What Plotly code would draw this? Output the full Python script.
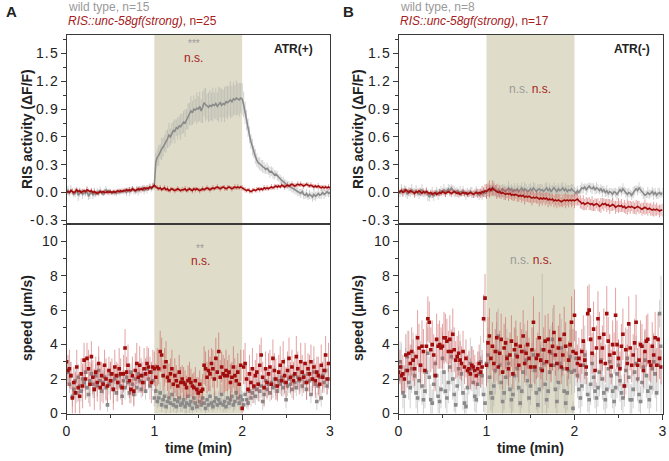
import numpy as np
import plotly.graph_objects as go

# ---------------- data ----------------
# RIS activity (dF/F), sampled every 1 s, 0..180 s
actA_wt = [0.00,0.02,-0.01,0.03,0.01,-0.02,0.00,0.02,-0.03,-0.01,0.01,-0.02,0.00,-0.01,0.02,-0.04,-0.02,0.01,-0.03,0.00,
 -0.02,0.01,-0.01,0.02,0.00,-0.02,0.01,0.03,0.00,0.02,0.01,-0.01,0.00,0.01,-0.01,0.00,0.01,0.00,0.02,0.01,
 0.02,0.00,0.03,0.01,0.02,0.04,0.02,0.01,0.03,0.02,0.04,0.03,0.05,0.02,0.04,0.03,0.05,0.06,0.04,0.06,
 0.07,0.33,0.38,0.40,0.44,0.47,0.49,0.53,0.55,0.58,0.62,0.60,0.64,0.67,0.66,0.70,0.69,0.72,0.71,0.74,
 0.76,0.75,0.79,0.82,0.85,0.88,0.86,0.90,0.89,0.91,0.90,0.93,0.88,0.92,0.97,0.95,0.93,0.92,0.94,0.93,
 0.95,0.94,0.96,0.93,0.95,0.97,0.94,0.96,0.95,0.98,0.97,0.99,1.00,0.98,1.01,1.00,1.02,1.01,1.00,1.02,
 1.01,0.95,0.86,0.78,0.70,0.62,0.55,0.49,0.44,0.39,0.35,0.32,0.31,0.29,0.28,0.27,0.25,0.26,0.24,0.22,
 0.23,0.21,0.19,0.20,0.18,0.16,0.14,0.13,0.12,0.10,0.09,0.08,0.07,0.06,0.05,0.04,0.03,0.02,0.01,0.00,
 -0.01,0.01,-0.02,-0.03,-0.01,-0.04,-0.02,-0.03,-0.05,-0.02,-0.04,-0.03,-0.01,-0.03,-0.02,0.00,-0.02,-0.01,0.01,-0.01,0.00]
errA_wt = [0.04,0.05,0.03,0.05,0.04,0.03,0.05,0.04,0.06,0.04,0.03,0.05,0.04,0.03,0.05,0.04,0.05,0.03,0.04,0.05,
 0.03,0.04,0.03,0.04,0.03,0.02,0.03,0.04,0.03,0.02,0.03,0.02,0.03,0.02,0.03,0.02,0.03,0.02,0.03,0.03,
 0.03,0.04,0.03,0.05,0.04,0.03,0.04,0.03,0.04,0.05,0.03,0.04,0.03,0.04,0.03,0.04,0.03,0.04,0.03,0.04,
 0.04,0.10,0.09,0.11,0.08,0.12,0.10,0.09,0.12,0.10,0.13,0.09,0.11,0.10,0.13,0.09,0.12,0.10,0.14,0.11,
 0.12,0.15,0.11,0.14,0.12,0.16,0.13,0.15,0.12,0.17,0.14,0.16,0.13,0.17,0.15,0.18,0.14,0.16,0.17,0.15,
 0.18,0.14,0.17,0.15,0.19,0.16,0.18,0.15,0.19,0.17,0.18,0.16,0.20,0.17,0.18,0.16,0.19,0.17,0.18,0.16,
 0.17,0.14,0.12,0.11,0.10,0.09,0.08,0.09,0.07,0.08,0.07,0.06,0.07,0.06,0.07,0.06,0.05,0.06,0.05,0.06,
 0.05,0.06,0.05,0.04,0.05,0.04,0.05,0.04,0.05,0.04,0.05,0.04,0.05,0.04,0.05,0.04,0.05,0.04,0.05,0.04,
 0.05,0.04,0.05,0.04,0.05,0.04,0.05,0.04,0.05,0.06,0.05,0.04,0.05,0.04,0.05,0.04,0.05,0.04,0.05,0.04,0.05]
actA_gf = [0.00,0.01,0.00,0.02,0.01,0.00,0.01,0.03,0.01,0.02,0.00,0.01,0.02,0.01,0.03,0.02,0.01,0.02,0.00,0.01,
 0.00,-0.01,0.00,0.01,0.00,0.01,0.00,0.00,0.01,0.00,0.01,0.00,0.01,0.00,0.01,0.02,0.01,0.02,0.01,0.02,
 0.02,0.03,0.02,0.03,0.02,0.04,0.03,0.02,0.03,0.04,0.03,0.04,0.03,0.05,0.04,0.05,0.04,0.06,0.05,0.07,
 0.08,0.06,0.05,0.04,0.05,0.03,0.04,0.05,0.03,0.04,0.02,0.03,0.04,0.03,0.02,0.03,0.04,0.03,0.02,0.03,
 0.03,0.04,0.02,0.03,0.04,0.03,0.02,0.04,0.03,0.04,0.03,0.02,0.03,0.04,0.03,0.04,0.05,0.04,0.03,0.04,
 0.05,0.04,0.05,0.06,0.05,0.04,0.05,0.06,0.05,0.04,0.05,0.06,0.05,0.04,0.05,0.06,0.05,0.06,0.05,0.06,
 0.05,0.04,0.03,0.02,0.03,0.02,0.01,0.02,0.03,0.02,0.03,0.04,0.03,0.04,0.03,0.05,0.04,0.05,0.04,0.05,
 0.06,0.05,0.06,0.07,0.06,0.07,0.06,0.08,0.07,0.06,0.07,0.08,0.07,0.08,0.09,0.08,0.07,0.08,0.09,0.08,
 0.09,0.08,0.07,0.08,0.09,0.08,0.07,0.08,0.07,0.06,0.07,0.06,0.07,0.06,0.05,0.06,0.05,0.06,0.05,0.06,0.05]
errA_gf = [0.02,0.03,0.02,0.02,0.03,0.02,0.03,0.02,0.02,0.03,0.02,0.03,0.02,0.02,0.03,0.02,0.02,0.03,0.02,0.03,
 0.02,0.02,0.03,0.02,0.02,0.02,0.03,0.02,0.02,0.03,0.02,0.02,0.02,0.03,0.02,0.02,0.03,0.02,0.02,0.02,
 0.03,0.02,0.02,0.03,0.02,0.03,0.02,0.02,0.03,0.02,0.03,0.02,0.02,0.03,0.02,0.03,0.02,0.03,0.02,0.03,
 0.03,0.02,0.03,0.02,0.03,0.02,0.02,0.03,0.02,0.03,0.02,0.03,0.02,0.02,0.03,0.02,0.03,0.02,0.02,0.03,
 0.02,0.03,0.02,0.03,0.02,0.02,0.03,0.02,0.03,0.02,0.02,0.03,0.02,0.03,0.02,0.02,0.03,0.02,0.03,0.02,
 0.03,0.02,0.02,0.03,0.02,0.03,0.02,0.02,0.03,0.02,0.03,0.02,0.02,0.03,0.02,0.03,0.02,0.03,0.02,0.02,
 0.03,0.02,0.03,0.02,0.02,0.03,0.02,0.03,0.02,0.02,0.03,0.02,0.03,0.02,0.02,0.03,0.02,0.03,0.02,0.02,
 0.03,0.02,0.03,0.02,0.03,0.02,0.02,0.03,0.02,0.03,0.02,0.03,0.02,0.02,0.03,0.02,0.03,0.02,0.03,0.02,
 0.03,0.02,0.03,0.02,0.02,0.03,0.02,0.03,0.02,0.03,0.02,0.02,0.03,0.02,0.03,0.02,0.03,0.02,0.02,0.03,0.02]

actB_wt = [0.02,-0.01,0.03,0.00,0.04,0.01,-0.02,0.02,0.00,0.03,0.01,-0.01,0.02,0.00,-0.02,0.01,0.03,0.00,-0.01,0.01,
 -0.03,-0.05,-0.02,0.00,-0.04,-0.01,0.01,-0.02,0.00,0.02,0.01,0.03,0.00,0.02,0.04,0.02,0.05,0.03,0.01,0.00,
 0.02,-0.01,0.01,0.00,0.02,-0.01,-0.02,0.00,-0.01,0.01,0.00,-0.02,-0.01,0.01,-0.01,-0.03,0.00,-0.02,0.01,-0.01,
 0.00,0.03,0.01,0.04,0.02,0.05,0.03,0.01,0.03,0.00,0.02,0.04,0.02,0.01,0.03,0.05,0.02,0.04,0.01,0.03,
 0.02,0.04,0.01,0.03,0.05,0.02,0.04,0.03,0.01,0.02,0.04,0.02,0.05,0.03,0.01,0.03,0.04,0.02,0.03,0.01,
 0.03,0.05,0.02,0.04,0.01,0.03,0.05,0.03,0.01,0.04,0.02,0.03,0.05,0.02,0.04,0.01,0.03,0.02,0.04,0.02,
 0.01,-0.01,0.02,0.00,0.03,0.05,0.04,0.06,0.03,0.05,0.07,0.05,0.04,0.06,0.03,0.05,0.04,0.02,0.04,0.01,
 0.03,0.00,0.02,-0.01,0.01,0.00,-0.02,0.01,0.00,-0.02,0.01,0.03,0.01,0.04,0.02,0.00,-0.02,0.00,-0.01,-0.03,
 0.00,0.02,0.04,0.02,0.05,0.03,0.01,-0.01,-0.03,-0.02,0.00,-0.02,-0.01,0.01,-0.02,0.00,-0.03,-0.01,0.00,-0.02,0.00]
errB_wt = [0.05,0.04,0.06,0.05,0.04,0.06,0.05,0.04,0.05,0.06,0.04,0.05,0.06,0.04,0.05,0.04,0.06,0.05,0.04,0.05,
 0.06,0.05,0.04,0.06,0.05,0.04,0.05,0.06,0.04,0.05,0.04,0.06,0.05,0.04,0.05,0.06,0.04,0.05,0.06,0.05,
 0.04,0.05,0.06,0.04,0.05,0.04,0.06,0.05,0.04,0.05,0.06,0.04,0.05,0.06,0.04,0.05,0.04,0.06,0.05,0.04,
 0.06,0.05,0.07,0.05,0.06,0.08,0.05,0.06,0.07,0.05,0.06,0.05,0.07,0.06,0.05,0.07,0.06,0.05,0.06,0.07,
 0.05,0.06,0.07,0.05,0.06,0.05,0.07,0.06,0.05,0.07,0.06,0.05,0.06,0.07,0.05,0.06,0.05,0.07,0.06,0.05,
 0.07,0.06,0.05,0.06,0.07,0.05,0.06,0.05,0.07,0.06,0.05,0.07,0.06,0.05,0.06,0.07,0.05,0.06,0.05,0.07,
 0.05,0.06,0.05,0.04,0.05,0.06,0.05,0.04,0.06,0.05,0.04,0.05,0.06,0.04,0.05,0.06,0.05,0.04,0.05,0.06,
 0.04,0.05,0.06,0.05,0.04,0.05,0.06,0.04,0.05,0.06,0.05,0.04,0.05,0.06,0.04,0.05,0.06,0.05,0.04,0.05,
 0.06,0.05,0.04,0.05,0.06,0.04,0.05,0.06,0.05,0.04,0.06,0.05,0.04,0.05,0.06,0.05,0.04,0.06,0.05,0.04,0.05]
actB_gf = [0.00,0.01,0.02,0.00,0.01,0.03,0.01,0.00,0.02,0.01,0.00,-0.01,0.01,0.00,0.02,0.00,-0.01,0.01,0.00,0.01,
 0.00,-0.01,0.00,-0.02,-0.01,0.00,-0.02,-0.01,0.00,-0.01,0.01,0.00,-0.01,0.00,0.01,0.00,-0.01,0.00,0.01,0.00,
 -0.01,0.00,-0.02,-0.01,0.00,-0.01,0.00,-0.02,-0.01,0.00,-0.01,-0.02,-0.01,0.00,-0.01,0.00,-0.01,0.01,0.00,0.02,
 0.01,0.03,0.04,0.02,0.05,0.03,0.02,0.01,0.00,0.01,-0.01,0.00,-0.01,-0.02,-0.01,-0.02,-0.01,-0.03,-0.02,-0.03,
 -0.02,-0.03,-0.04,-0.03,-0.04,-0.03,-0.05,-0.04,-0.05,-0.04,-0.05,-0.06,-0.05,-0.06,-0.05,-0.06,-0.07,-0.06,-0.07,-0.06,
 -0.07,-0.06,-0.08,-0.07,-0.08,-0.07,-0.09,-0.08,-0.09,-0.08,-0.09,-0.10,-0.09,-0.08,-0.09,-0.08,-0.09,-0.08,-0.09,-0.08,
 -0.09,-0.08,-0.07,-0.09,-0.10,-0.12,-0.11,-0.13,-0.12,-0.11,-0.12,-0.13,-0.12,-0.14,-0.13,-0.12,-0.13,-0.15,-0.14,-0.12,
 -0.13,-0.12,-0.14,-0.13,-0.15,-0.14,-0.13,-0.14,-0.16,-0.15,-0.14,-0.15,-0.14,-0.16,-0.15,-0.17,-0.16,-0.15,-0.16,-0.15,
 -0.16,-0.17,-0.16,-0.15,-0.16,-0.17,-0.18,-0.17,-0.16,-0.17,-0.18,-0.17,-0.18,-0.19,-0.18,-0.19,-0.18,-0.19,-0.20,-0.19,-0.19]
errB_gf = [0.03,0.02,0.03,0.04,0.03,0.02,0.03,0.04,0.03,0.02,0.03,0.04,0.03,0.02,0.03,0.04,0.03,0.02,0.03,0.04,
 0.03,0.02,0.03,0.04,0.03,0.03,0.02,0.03,0.04,0.03,0.02,0.03,0.04,0.03,0.02,0.03,0.04,0.03,0.02,0.03,
 0.04,0.03,0.02,0.03,0.04,0.03,0.02,0.03,0.04,0.03,0.03,0.04,0.03,0.04,0.05,0.04,0.05,0.06,0.05,0.07,
 0.08,0.07,0.09,0.06,0.08,0.07,0.06,0.08,0.05,0.07,0.06,0.05,0.07,0.06,0.05,0.07,0.06,0.05,0.07,0.06,
 0.05,0.07,0.06,0.05,0.07,0.06,0.08,0.06,0.05,0.07,0.06,0.08,0.06,0.05,0.07,0.06,0.08,0.06,0.07,0.05,
 0.07,0.06,0.08,0.06,0.07,0.05,0.07,0.06,0.08,0.06,0.07,0.05,0.07,0.06,0.08,0.06,0.07,0.05,0.07,0.06,
 0.08,0.06,0.07,0.05,0.07,0.06,0.08,0.06,0.07,0.05,0.07,0.06,0.08,0.06,0.07,0.05,0.07,0.06,0.08,0.06,
 0.07,0.05,0.07,0.06,0.08,0.06,0.07,0.05,0.07,0.06,0.08,0.06,0.07,0.05,0.07,0.06,0.08,0.06,0.07,0.05,
 0.07,0.06,0.08,0.06,0.07,0.05,0.07,0.06,0.08,0.06,0.07,0.05,0.07,0.06,0.08,0.06,0.07,0.05,0.07,0.06,0.07]

# speed (um/s), one value per second, 0..179 s
spdA_wt = [2.5,2.4,1.7,2.2,1.0,1.4,1.9,1.2,2.1,1.6,1.3,2.0,1.8,2.4,1.5,1.1,1.9,2.3,1.7,1.4,
 2.2,1.6,2.5,1.9,1.3,1.8,2.1,1.5,0.5,1.7,2.3,1.9,1.4,2.0,1.2,1.8,2.2,1.6,1.0,1.9,
 1.5,2.1,1.8,1.2,2.4,1.7,1.1,2.0,1.5,2.3,1.9,1.4,2.2,1.8,1.3,2.6,2.0,1.6,2.4,1.9,
 0.9,1.3,0.7,0.9,1.2,0.5,0.8,1.0,0.4,0.7,0.9,0.6,1.1,0.5,0.8,0.4,0.7,0.9,0.5,0.6,
 0.8,0.4,0.6,1.0,0.5,0.7,0.3,0.9,0.6,0.4,1.2,0.7,0.5,0.9,0.6,0.3,0.8,0.5,1.0,0.6,
 0.4,0.7,0.9,0.5,0.8,0.6,1.1,0.5,0.7,0.4,0.9,0.6,0.8,1.0,0.5,0.7,1.2,0.9,0.6,1.0,
 0.8,0.5,1.1,0.8,0.6,1.3,0.9,1.2,1.5,1.0,1.4,1.7,1.3,1.6,0.7,1.1,1.9,1.4,1.7,1.2,
 1.8,1.5,2.0,1.6,1.3,1.9,1.7,2.1,1.5,1.8,0.8,1.6,2.0,1.7,1.4,2.2,1.8,1.5,2.1,1.9,
 2.0,1.6,2.2,1.8,1.4,2.3,1.9,1.1,2.0,2.4,1.7,0.7,1.6,2.1,0.9,2.2,1.8,2.5,1.6,2.0]
eA_wt = [0.6,0.7,0.5,0.8,0.6,0.5,0.7,0.6,0.8,0.5,0.6,0.7,0.5,0.8,0.6,0.5,0.7,0.6,0.8,0.5,
 0.7,0.6,0.8,0.5,0.6,0.7,0.5,0.8,0.4,0.6,0.7,0.5,0.8,0.6,0.5,0.7,0.6,0.8,0.5,0.6,
 0.7,0.5,0.8,0.6,0.5,0.7,0.6,0.8,0.5,0.6,0.7,0.5,0.8,0.6,0.5,0.7,0.6,0.8,0.5,0.6,
 0.5,0.6,0.4,0.5,0.6,0.4,0.5,0.6,0.4,0.5,0.4,0.6,0.5,0.4,0.5,0.4,0.6,0.5,0.4,0.5,
 0.4,0.5,0.6,0.4,0.5,0.4,0.3,0.5,0.4,0.3,0.6,0.5,0.4,0.5,0.4,0.3,0.5,0.4,0.6,0.4,
 0.3,0.5,0.4,0.3,0.5,0.4,0.6,0.4,0.5,0.3,0.5,0.4,0.5,0.6,0.4,0.5,0.6,0.5,0.4,0.6,
 0.5,0.4,0.6,0.5,0.4,0.7,0.5,0.6,0.7,0.5,0.6,0.8,0.6,0.7,0.5,0.6,0.8,0.6,0.7,0.5,
 0.7,0.6,0.8,0.6,0.5,0.7,0.6,0.8,0.5,0.7,0.5,0.6,0.8,0.6,0.5,0.7,0.6,0.5,0.7,0.6,
 0.8,0.6,0.7,0.5,0.6,0.8,0.6,0.5,0.7,0.8,0.6,0.5,0.6,0.7,0.5,0.8,0.6,0.7,0.5,0.6]
spdA_gf = [3.0,2.5,2.6,2.2,0.9,1.8,1.2,2.7,1.5,1.0,2.3,1.6,3.1,2.0,3.2,2.6,1.7,3.3,2.1,1.4,
 2.4,1.8,2.9,1.5,2.2,1.7,2.8,2.0,1.6,2.5,1.9,2.3,1.4,2.7,2.2,1.8,2.6,2.3,1.5,2.3,
 3.8,2.4,2.8,1.9,1.4,2.2,1.3,2.5,2.9,2.1,2.8,2.2,1.8,2.6,2.3,2.9,2.7,2.4,1.8,2.7,
 2.6,2.1,2.7,2.6,3.6,3.4,2.2,2.7,3.0,2.1,1.9,2.3,2.6,1.7,2.2,1.9,1.6,2.4,1.8,2.0,
 1.8,1.7,1.5,1.9,2.0,1.8,1.6,1.5,1.9,1.4,1.2,1.7,1.3,1.4,2.8,2.6,2.1,2.5,2.3,2.9,
 2.6,2.0,3.2,2.4,3.6,2.1,2.7,2.3,2.2,2.5,2.2,2.4,1.8,2.1,2.7,2.2,1.9,2.4,1.7,2.8,
 0.3,2.7,2.9,2.0,1.4,2.3,1.8,2.6,1.6,2.2,2.4,1.7,2.8,3.4,2.1,1.5,2.6,1.8,2.3,2.7,
 1.7,3.2,2.5,2.0,1.6,2.4,2.8,1.9,3.0,2.2,1.8,2.5,3.2,2.1,2.7,1.9,2.3,3.3,2.6,2.0,
 3.0,2.4,2.1,2.9,1.8,2.6,2.3,3.0,2.0,2.7,1.9,2.4,2.2,1.7,2.8,2.1,2.5,3.4,2.0,2.9]
eA_gf = [1.2,0.9,1.1,0.8,1.0,0.9,1.2,1.0,0.8,1.1,0.9,1.3,1.0,1.2,0.9,1.1,1.3,0.9,1.0,1.2,
 0.9,1.1,1.0,1.3,0.8,1.1,0.9,1.2,1.0,0.8,1.1,0.9,1.2,1.0,0.8,1.1,1.2,0.9,1.0,1.1,
 1.1,0.9,1.2,1.0,0.8,1.1,0.9,1.0,1.2,0.9,1.1,1.0,0.8,1.2,0.9,1.0,1.1,0.9,1.2,1.0,
 1.0,0.8,1.1,0.9,1.2,1.0,0.9,1.1,1.2,0.8,1.0,0.9,1.1,0.8,1.0,0.9,0.8,1.0,0.9,0.8,
 0.9,0.8,0.7,0.9,1.0,0.8,0.7,0.9,0.8,0.7,0.9,0.8,0.7,0.9,1.1,1.0,0.9,1.2,1.0,0.9,
 1.1,1.0,1.2,0.9,1.1,1.0,0.9,1.1,1.0,1.2,0.9,1.0,1.1,0.9,1.2,1.0,0.9,1.1,1.0,0.9,
 0.4,1.0,1.2,0.9,1.0,1.1,0.9,1.2,1.0,0.9,1.1,1.0,1.2,1.0,0.9,1.1,1.0,0.9,1.2,1.0,
 0.9,1.1,1.0,1.2,0.9,1.0,1.1,0.9,1.2,1.0,0.9,1.1,1.2,0.9,1.0,1.1,0.9,1.2,1.0,0.9,
 1.1,1.0,0.9,1.2,1.0,0.9,1.1,1.0,0.9,1.2,1.0,0.9,1.1,1.0,1.2,0.9,1.0,1.1,0.9,1.2]

spdB_wt = [2.0,3.0,2.7,1.2,1.0,2.5,3.3,1.8,1.5,2.6,3.1,2.2,1.2,0.9,1.9,2.8,1.6,0.8,1.3,2.4,
 3.5,2.1,0.8,0.6,1.7,2.9,2.2,1.0,0.7,1.4,3.2,2.4,1.3,0.9,1.8,2.7,3.3,2.0,1.1,0.5,
 1.6,2.6,3.1,2.3,1.2,0.6,0.4,1.5,2.4,2.9,2.6,1.8,1.0,0.8,1.7,2.3,3.0,2.2,1.1,0.6,
 2.9,3.4,2.1,1.2,0.9,1.6,2.5,3.6,4.5,2.8,1.8,0.7,1.2,2.1,3.3,2.9,1.4,0.8,1.1,2.2,
 3.4,2.6,1.5,0.6,1.3,2.4,3.6,3.1,1.9,0.9,1.6,2.7,3.4,2.5,1.2,0.5,1.4,2.6,3.7,2.9,
 1.7,0.8,1.3,2.4,3.5,4.3,2.8,1.4,0.7,1.8,2.9,3.8,2.6,1.3,0.6,1.2,2.5,3.3,2.4,0.3,
 2.5,3.2,2.2,1.4,0.9,1.6,2.8,3.4,2.3,1.1,0.8,1.7,2.9,2.1,1.3,0.9,1.5,2.4,3.1,2.0,
 1.2,0.8,1.4,2.6,3.0,2.2,1.3,0.7,1.5,2.3,2.8,1.9,1.2,0.9,1.6,2.5,3.2,2.1,0.8,0.8,
 1.4,2.4,2.9,2.0,1.1,0.7,1.8,2.7,3.1,2.2,1.3,0.8,1.5,2.6,3.0,2.3,1.2,2.8,5.8,3.9]
eB_wt = [1.0,1.2,1.4,0.9,1.1,1.3,1.5,1.0,1.2,1.4,1.6,1.1,0.9,1.0,1.2,1.4,1.1,0.9,1.0,1.3,
 1.5,1.2,0.9,0.8,1.1,1.4,1.2,1.0,0.9,1.1,1.5,1.3,1.0,0.9,1.2,1.4,1.6,1.2,1.0,0.8,
 1.1,1.3,1.5,1.2,1.0,0.9,0.8,1.1,1.3,1.5,1.3,1.1,0.9,0.8,1.1,1.3,1.5,1.2,1.0,0.9,
 1.4,1.6,1.3,1.0,0.9,1.2,1.4,1.7,1.6,1.4,1.2,0.9,1.0,1.3,1.6,1.5,1.1,0.9,1.0,1.3,
 1.5,1.3,1.1,0.9,1.0,1.3,1.6,1.5,1.2,0.9,1.1,1.4,1.6,1.3,1.0,0.8,1.1,1.4,4.4,1.5,
 1.2,0.9,1.0,1.3,1.6,1.8,1.4,1.1,0.9,1.2,1.5,1.7,1.4,1.0,0.8,1.0,1.3,1.6,1.3,0.4,
 1.3,1.6,1.3,1.1,0.9,1.2,1.5,1.7,1.3,1.0,0.9,1.2,1.5,1.3,1.0,0.9,1.1,1.4,1.6,1.2,
 1.0,0.9,1.1,1.4,1.6,1.3,1.0,0.9,1.1,1.4,1.5,1.2,1.0,0.9,1.2,1.4,1.7,1.3,0.9,0.9,
 1.1,1.4,1.6,1.3,1.0,0.9,1.2,1.5,1.7,1.3,1.0,0.9,1.2,1.5,1.7,1.4,1.1,1.5,0.8,4.1]
spdB_gf = [2.4,2.7,2.2,2.3,2.0,3.4,2.5,3.5,2.9,3.6,3.1,2.6,3.3,4.4,3.8,2.8,3.9,3.6,2.5,3.9,
 5.5,5.3,3.7,4.0,3.4,2.2,4.3,3.9,4.0,3.8,3.9,4.4,4.4,4.2,3.6,4.3,3.6,4.6,3.7,3.1,
 3.3,3.5,3.1,2.9,3.6,2.7,3.2,2.5,2.6,2.3,2.8,2.7,2.5,2.2,2.6,2.9,2.4,2.7,5.5,6.7,
 2.8,4.1,4.5,3.2,3.9,2.9,3.6,4.4,2.7,3.5,4.3,2.4,3.8,4.1,3.2,2.6,3.4,4.2,2.3,3.7,
 4.0,3.3,2.8,3.9,3.6,4.5,2.9,3.5,4.0,3.2,2.7,3.7,5.3,2.7,3.2,3.4,4.4,3.1,2.5,3.7,
 4.2,3.0,4.3,3.6,2.8,3.9,4.7,3.4,2.9,3.8,4.3,2.7,3.4,4.6,3.9,2.6,3.1,4.0,5.3,3.6,
 5.7,3.5,2.9,3.2,2.8,3.6,4.2,3.1,2.7,5.8,6.0,4.3,3.5,4.9,2.5,3.8,5.5,4.4,3.0,3.8,
 4.6,2.9,5.8,4.2,3.4,2.7,4.0,3.5,5.7,4.0,3.2,2.6,3.9,4.6,1.6,3.7,2.9,5.2,3.8,2.8,
 3.4,4.1,5.3,2.8,3.1,4.0,3.9,2.5,3.6,4.2,4.3,3.0,2.8,3.9,3.4,4.4,2.8,4.3,3.2,2.7]
eB_gf = [0.8,1.0,0.9,1.1,0.8,1.2,1.0,1.3,1.1,1.4,1.2,1.0,1.3,1.6,1.4,1.1,1.5,1.3,1.0,1.4,
 1.3,1.2,1.3,1.4,1.2,0.9,1.5,1.3,1.4,1.2,1.3,1.5,1.4,1.3,1.2,1.4,1.2,1.5,1.3,1.1,
 1.2,1.3,1.1,1.0,1.2,1.0,1.1,0.9,1.0,0.9,1.1,1.0,0.9,0.8,1.0,1.1,0.9,1.0,1.4,1.4,
 1.2,1.5,1.6,1.2,1.4,1.1,1.3,1.5,1.0,1.3,1.5,1.0,1.4,1.5,1.2,1.0,1.3,1.5,0.9,1.3,
 1.4,1.2,1.0,1.4,1.3,1.5,1.1,1.3,1.4,1.2,1.0,1.3,1.5,1.0,1.2,1.3,1.5,1.1,1.0,1.3,
 1.5,1.1,1.5,1.3,1.0,1.4,1.6,1.2,1.1,1.3,1.5,1.0,1.2,1.6,1.4,1.0,1.1,1.4,1.5,1.3,
 1.5,1.3,1.1,1.2,1.0,1.3,1.5,1.1,1.0,1.6,1.5,1.4,1.2,1.6,1.0,1.3,1.6,1.5,1.1,1.3,
 1.5,1.1,1.6,1.4,1.2,1.0,1.4,1.2,1.6,1.4,1.1,1.0,1.3,1.5,0.7,1.3,1.1,1.6,1.3,1.0,
 1.2,1.4,1.6,1.0,1.1,1.4,1.3,1.0,1.3,1.5,1.5,1.1,1.0,1.4,1.2,1.5,1.0,1.5,1.2,1.0]

t_act = np.arange(len(actA_wt)) / 60.0
t_spd = np.arange(len(spdA_wt)) / 60.0

act_ticks = [-0.3, 0.0, 0.3, 0.6, 0.9, 1.2, 1.5]
spd_ticks = [0, 2, 4, 6, 8, 10]
time_ticks = [0, 1, 2, 3]
stim = [1, 2]

# ---------------- styling ----------------
GREY = "#8a8a8a"
RED = "#a10d0d"
GREY_ERR = "rgba(165,165,165,0.5)"
RED_ERR = "rgba(200,70,70,0.5)"
AXC = "#3a3a3a"
FONT = "Liberation Sans, Arial, sans-serif"
SHADE = "#dfddc9"

def spaced(s):
    return "\u200a".join(list(s))

W, H = 669, 461
def px(x):
    return x / W
def py(y):
    return 1 - y / H

xA = [px(66.5), px(330)]
xB = [px(398.5), px(662.5)]
y_top = [py(224), py(35)]
y_bot = [py(413.5), py(224)]

fig = go.Figure()

def line_tr(x, y, e, col, ecol, xa, ya):
    return go.Scatter(x=x, y=y, mode="lines", line=dict(color=col, width=1.6),
                      error_y=dict(type="data", array=e, color=ecol, thickness=1, width=0),
                      xaxis=xa, yaxis=ya, showlegend=False, hoverinfo="skip")

def dot_tr(x, y, e, col, ecol, xa, ya):
    return go.Scatter(x=x, y=y, mode="markers", marker=dict(color=col, size=3.6, symbol="square"),
                      error_y=dict(type="data", array=e, color=ecol, thickness=1, width=0),
                      xaxis=xa, yaxis=ya, showlegend=False, hoverinfo="skip")

fig.add_trace(line_tr(t_act, actA_wt, errA_wt, GREY, GREY_ERR, "x", "y"))
fig.add_trace(line_tr(t_act, actA_gf, errA_gf, RED, RED_ERR, "x", "y"))
fig.add_trace(dot_tr(t_spd, spdA_wt, eA_wt, GREY, GREY_ERR, "x2", "y2"))
fig.add_trace(dot_tr(t_spd, spdA_gf, eA_gf, RED, RED_ERR, "x2", "y2"))
fig.add_trace(line_tr(t_act, actB_wt, errB_wt, GREY, GREY_ERR, "x3", "y3"))
fig.add_trace(line_tr(t_act, actB_gf, errB_gf, RED, RED_ERR, "x3", "y3"))
fig.add_trace(dot_tr(t_spd, spdB_wt, eB_wt, GREY, GREY_ERR, "x4", "y4"))
fig.add_trace(dot_tr(t_spd, spdB_gf, eB_gf, RED, RED_ERR, "x4", "y4"))

tickfont = dict(family=FONT, size=14, color="#222")

def xax(dom, anchor, labels):
    return dict(domain=dom, anchor=anchor, range=[0, 3], showgrid=False, zeroline=False,
                showline=True, linecolor=AXC, linewidth=1, mirror=True,
                ticks="outside" if labels else "", ticklen=5, tickcolor=AXC,
                tickvals=time_ticks, ticktext=[str(v) for v in time_ticks],
                showticklabels=labels, tickfont=tickfont,
                minor=dict(dtick=0.5, ticks="outside" if labels else "", ticklen=3, tickcolor=AXC),
                automargin=False)

def yax(dom, anchor, rng, tv, tt, mdt):
    return dict(domain=dom, anchor=anchor, range=rng, showgrid=False, zeroline=False,
                showline=True, linecolor=AXC, linewidth=1, mirror=True,
                ticks="outside", ticklen=5, tickcolor=AXC,
                tickvals=tv, ticktext=tt, tickfont=tickfont,
                minor=dict(dtick=mdt, tick0=0, ticks="outside", ticklen=3, tickcolor=AXC),
                automargin=False)

act_tt = [spaced("%.1f" % v) for v in act_ticks]
spd_tt = [str(v) for v in spd_ticks]

fig.update_layout(
    width=W, height=H, margin=dict(l=0, r=0, t=0, b=0),
    paper_bgcolor="white", plot_bgcolor="rgba(0,0,0,0)",
    xaxis=xax(xA, "y", False), yaxis=yax(y_top, "x", [-0.34, 1.70], act_ticks, act_tt, 0.15),
    xaxis2=xax(xA, "y2", True), yaxis2=yax(y_bot, "x2", [0, 11.0], spd_ticks, spd_tt, 1),
    xaxis3=xax(xB, "y3", False), yaxis3=yax(y_top, "x3", [-0.34, 1.70], act_ticks, act_tt, 0.15),
    xaxis4=xax(xB, "y4", True), yaxis4=yax(y_bot, "x4", [0, 11.0], spd_ticks, spd_tt, 1),
)

shapes = []
for xa in ["x", "x3"]:
    shapes.append(dict(type="rect", xref=xa, yref="paper", x0=stim[0], x1=stim[1],
                       y0=y_bot[0], y1=y_top[1], fillcolor=SHADE, line=dict(width=0), layer="below"))
fig.update_layout(shapes=shapes)

ann = []
def A(x, y, text, size=12, color="#222", xref="paper", yref="paper", xanchor="center", angle=0, bold=False):
    if bold:
        text = "<b>" + text + "</b>"
    ann.append(dict(x=x, y=y, xref=xref, yref=yref, text=text, showarrow=False,
                    font=dict(family=FONT, size=size, color=color), xanchor=xanchor,
                    yanchor="middle", textangle=angle))

LGREY = "#9a9a9a"
LRED = "#a52020"
# panel letters
A(px(4), py(12), "A", size=15, bold=True, xanchor="left")
A(px(341), py(12), "B", size=15, bold=True, xanchor="left")
# legends
A(px(66), py(7), "wild type, n=15", color=LGREY, xanchor="left")
A(px(66), py(21), "<i>RIS::unc-58gf(strong)</i>, n=25", color=LRED, xanchor="left")
A(px(398), py(7), "wild type, n=8", color=LGREY, xanchor="left")
A(px(398), py(21), "<i>RIS::unc-58gf(strong)</i>, n=17", color=LRED, xanchor="left")
# ATR labels
A(px(293), py(49), "ATR(+)", size=12, bold=True)
A(px(632), py(49), "ATR(-)", size=12, bold=True)
# axis titles
for xx in [px(27), px(358)]:
    A(xx, py(129), "RIS activity (ΔF/F)", size=14, bold=True, angle=-90)
    A(xx, py(318), "speed (µm/s)", size=14, bold=True, angle=-90)
A(px(198), py(448), "time (min)", size=14, bold=True)
A(px(530.5), py(448), "time (min)", size=14, bold=True)
# significance marks
A(1.45, 1.61, "***", size=10, color=LGREY, xref="x", yref="y")
A(1.45, 1.45, "n.s.", size=12, color=LRED, xref="x", yref="y")
A(1.52, 9.6, "**", size=10, color=LGREY, xref="x2", yref="y2")
A(1.52, 8.85, "n.s.", size=12, color=LRED, xref="x2", yref="y2")
two = "<span style='color:%s'>n.s.</span> <span style='color:%s'>n.s.</span>" % (LGREY, LRED)
A(1.49, 1.12, two, size=12, xref="x3", yref="y3")
A(1.5, 8.93, two, size=12, xref="x4", yref="y4")
fig.update_layout(annotations=ann)

fig.write_html("out.html", config={"displayModeBar": False},
               post_script="document.body.style.margin='0';")
